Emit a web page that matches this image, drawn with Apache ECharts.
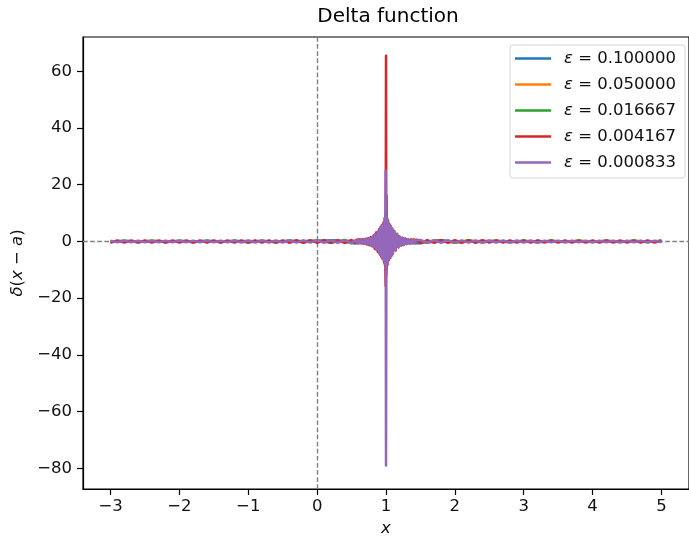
<!DOCTYPE html>
<html>
<head>
<meta charset="utf-8">
<script src="https://cdn.jsdelivr.net/npm/echarts@6/dist/echarts.min.js"></script>
<style>
  html, body { margin: 0; padding: 0; background: #fff; }
  #chart { width: 689px; height: 542px; }
</style>
</head>
<body>
<div id="chart"></div>
<script>
  // tick positions
  const xTicks = [-3, -2, -1, 0, 1, 2, 3, 4, 5];
  const yTicks = [-80, -60, -40, -20, 0, 20, 40, 60];

  const seriesNames = [
    'ε = 0.100000',
    'ε = 0.050000',
    'ε = 0.016667',
    'ε = 0.004167',
    'ε = 0.000833',
  ];
  const colors = ['#1f77b4', '#ff7f0e', '#2ca02c', '#d62728', '#9467bd'];

  // eps = 0.1 (mostly hidden under the others)
  const blueData = [
    [-3.0, 0.05], [-2.5, -0.08], [-2.0, 0.1], [-1.5, -0.12], [-1.0, 0.15], [-0.6, -0.13],
    [-0.2, 0.18], [0.0, 0.15], [0.2, 0.39], [0.3, 0.3], [0.4, -0.15], [0.5, -0.61],
    [0.6, -0.6], [0.7, 0.15], [0.8, 1.45], [0.9, 2.68], [1.0, 3.18], [1.1, 2.68],
    [1.2, 1.45], [1.3, 0.15], [1.4, -0.6], [1.5, -0.61], [1.6, -0.15], [1.7, 0.3],
    [1.8, 0.39], [2.0, -0.17], [2.4, 0.2], [3.0, -0.12], [3.5, 0.1], [4.0, -0.08],
    [4.5, 0.07], [5.0, -0.05],
  ];

  // eps = 0.05
  const orangeData = [
    [-3.0, 0.05], [-2.5, -0.06], [-2.0, 0.07], [-1.5, -0.09], [-1.0, 0.1], [-0.5, -0.15],
    [0.0, 0.2], [0.2, -0.25], [0.3, 0.3], [0.4, -0.28], [0.5, -0.35], [0.6, 0.79],
    [0.65, 0.6], [0.7, -0.3], [0.75, -1.22], [0.8, -1.2], [0.85, 0.3], [0.9, 2.9],
    [0.95, 5.36], [1.0, 6.37], [1.05, 5.36], [1.1, 2.9], [1.15, 0.3], [1.2, -1.2],
    [1.25, -1.22], [1.3, -0.3], [1.35, 0.6], [1.4, 0.79], [1.5, -0.35], [1.6, -0.28],
    [1.7, 0.3], [2.0, -0.25], [2.5, 0.15], [3.0, -0.1], [3.5, 0.09], [4.0, -0.07],
    [4.5, 0.06], [5.0, -0.05],
  ];

  // eps = 0.016667
  const greenData = [
    [-3.0, -0.3], [-2.8, 0.3], [-2.6, -0.3], [-2.4, 0.3], [-2.2, -0.3], [-2.0, 0.3],
    [-1.8, -0.3], [-1.6, 0.3], [-1.4, -0.3], [-1.2, 0.35], [-1.0, -0.35], [-0.8, 0.35],
    [-0.6, -0.35], [-0.4, 0.4], [-0.2, -0.4], [0.0, 0.45], [0.2, -0.45], [0.4, 0.5],
    [0.55, -0.55], [0.65, 0.7], [0.72, -0.95], [0.78, 1.4], [0.83, -2.1], [0.87, 3.0],
    [0.9, -3.9], [0.93, 4.9], [0.95, -5.7], [0.97, 6.5], [0.98, -7.5], [0.99, 9],
    [1.0, 10], [1.008, 16], [1.012, -9.5], [1.02, 8], [1.03, -7], [1.05, 5.7],
    [1.07, -4.9], [1.1, 3.9], [1.13, -3.0], [1.17, 2.1], [1.22, -1.4], [1.28, 0.95],
    [1.35, -0.7], [1.45, 0.55], [1.6, -0.5], [1.8, 0.45], [2.0, -0.45], [2.2, 0.4],
    [2.4, -0.4], [2.6, 0.35], [2.8, -0.35], [3.0, 0.35], [3.2, -0.35], [3.4, 0.35],
    [3.6, -0.3], [3.8, 0.3], [4.0, -0.3], [4.2, 0.3], [4.4, -0.3], [4.6, 0.3],
    [4.8, -0.3], [5.0, 0.3],
  ];

  // eps = 0.004167
  const redData = [
    [-3.0, -0.35], [-2.9, 0.35], [-2.8, -0.35], [-2.7, 0.35], [-2.6, -0.35], [-2.5, 0.35],
    [-2.4, -0.35], [-2.3, 0.35], [-2.2, -0.35], [-2.1, 0.35], [-2.0, -0.35], [-1.9, 0.35],
    [-1.8, -0.35], [-1.7, 0.35], [-1.6, -0.35], [-1.5, 0.35], [-1.4, -0.35], [-1.3, 0.35],
    [-1.2, -0.4], [-1.1, 0.4], [-1.0, -0.4], [-0.9, 0.4], [-0.8, -0.4], [-0.7, 0.4],
    [-0.6, -0.4], [-0.5, 0.4], [-0.4, -0.45], [-0.3, 0.45], [-0.2, -0.45], [-0.1, 0.45],
    [0.0, -0.45], [0.1, 0.5], [0.2, -0.5], [0.3, 0.5], [0.4, -0.5], [0.5, 0.55],
    [0.56, -0.55], [0.58, 0.6], [0.6, -0.6], [0.62, 0.65], [0.64, -0.7], [0.66, 0.75],
    [0.68, -0.8], [0.7, 0.9], [0.72, -1.0], [0.74, 1.1], [0.76, -1.3], [0.78, 1.45],
    [0.8, -1.7], [0.82, 2.1], [0.84, -2.7], [0.86, 3.2], [0.88, -3.7], [0.9, 4.3],
    [0.91, -4.6], [0.92, 5.0], [0.93, -5.4], [0.94, 5.8], [0.95, -6.1], [0.96, 6.5],
    [0.97, -7.3], [0.98, 8.3], [0.99, -9.5], [0.995, -15.7], [1.0, 65.5], [1.005, -12],
    [1.01, 9.5], [1.02, -8.3], [1.03, 7.3], [1.04, -6.5], [1.05, 6.1], [1.06, -5.8],
    [1.07, 5.4], [1.08, -5.0], [1.09, 4.6], [1.1, -4.3], [1.12, 3.7], [1.14, -3.2],
    [1.16, 2.7], [1.18, -2.1], [1.2, 1.7], [1.22, -1.45], [1.24, 1.3], [1.26, -1.1],
    [1.28, 1.0], [1.3, -0.9], [1.32, 0.8], [1.34, -0.75], [1.36, 0.7], [1.38, -0.65],
    [1.4, 0.6], [1.42, -0.6], [1.44, 0.55], [1.5, -0.55], [1.6, 0.5], [1.7, -0.5],
    [1.8, 0.5], [1.9, -0.5], [2.0, 0.45], [2.1, -0.45], [2.2, 0.45], [2.3, -0.45],
    [2.4, 0.45], [2.5, -0.4], [2.6, 0.4], [2.7, -0.4], [2.8, 0.4], [2.9, -0.4],
    [3.0, 0.4], [3.1, -0.4], [3.2, 0.4], [3.3, -0.35], [3.4, 0.35], [3.5, -0.35],
    [3.6, 0.35], [3.7, -0.35], [3.8, 0.35], [3.9, -0.35], [4.0, 0.35], [4.1, -0.35],
    [4.2, 0.35], [4.3, -0.35], [4.4, 0.35], [4.5, -0.35], [4.6, 0.35], [4.7, -0.35],
    [4.8, 0.35], [4.9, -0.35], [5.0, 0.35],
  ];

  // eps = 0.000833 (drawn on top)
  const purpleData = [
    [-3.0, 0.3], [-2.9, -0.3], [-2.8, 0.3], [-2.7, -0.3], [-2.6, 0.3], [-2.5, -0.3],
    [-2.4, 0.3], [-2.3, -0.3], [-2.2, 0.3], [-2.1, -0.3], [-2.0, 0.3], [-1.9, -0.3],
    [-1.8, 0.3], [-1.7, -0.3], [-1.6, 0.3], [-1.5, -0.3], [-1.4, 0.3], [-1.3, -0.3],
    [-1.2, 0.35], [-1.1, -0.35], [-1.0, 0.35], [-0.9, -0.35], [-0.8, 0.35], [-0.7, -0.35],
    [-0.6, 0.35], [-0.5, -0.35], [-0.4, 0.4], [-0.3, -0.4], [-0.2, 0.4], [-0.1, -0.4],
    [0.0, 0.4], [0.1, -0.45], [0.2, 0.45], [0.3, -0.45], [0.4, 0.45], [0.5, -0.5],
    [0.56, 0.5], [0.58, -0.55], [0.6, 0.55], [0.62, -0.6], [0.64, 0.65], [0.66, -0.7],
    [0.68, 0.75], [0.7, -0.85], [0.72, 0.95], [0.74, -1.05], [0.76, 1.2], [0.78, -1.35],
    [0.8, 1.6], [0.82, -2.0], [0.84, 2.5], [0.86, -3.0], [0.88, 3.5], [0.9, -4.0],
    [0.91, 4.4], [0.92, -4.8], [0.93, 5.2], [0.94, -5.5], [0.95, 5.8], [0.96, -6.2],
    [0.97, 7], [0.98, -8], [0.99, 9], [0.995, 25], [1.0, -79], [1.005, -15],
    [1.01, 9], [1.02, -8], [1.03, 7], [1.04, -6.2], [1.05, 5.8], [1.06, -5.5],
    [1.07, 5.2], [1.08, -4.8], [1.09, 4.4], [1.1, -4.0], [1.12, 3.5], [1.14, -3.0],
    [1.16, 2.5], [1.18, -2.0], [1.2, 1.6], [1.22, -1.35], [1.24, 1.2], [1.26, -1.05],
    [1.28, 0.95], [1.3, -0.85], [1.32, 0.75], [1.34, -0.7], [1.36, 0.65], [1.38, -0.6],
    [1.4, 0.55], [1.42, -0.55], [1.44, 0.5], [1.5, 0.5], [1.6, -0.45], [1.7, 0.45],
    [1.8, -0.45], [1.9, 0.45], [2.0, -0.4], [2.1, 0.4], [2.2, -0.4], [2.3, 0.4],
    [2.4, -0.4], [2.5, 0.35], [2.6, -0.35], [2.7, 0.35], [2.8, -0.35], [2.9, 0.35],
    [3.0, -0.35], [3.1, 0.35], [3.2, -0.35], [3.3, 0.3], [3.4, -0.3], [3.5, 0.3],
    [3.6, -0.3], [3.7, 0.3], [3.8, -0.3], [3.9, 0.3], [4.0, -0.3], [4.1, 0.3],
    [4.2, -0.3], [4.3, 0.3], [4.4, -0.3], [4.5, 0.3], [4.6, -0.3], [4.7, 0.3],
    [4.8, -0.3], [4.9, 0.3], [5.0, -0.3],
  ];

  const allData = [blueData, orangeData, greenData, redData, purpleData];

  const font = 'DejaVu Sans';
  const fs = 16.5;
  const minus = (v) => String(v).replace('-', '\u2212');

  const chart = echarts.init(document.getElementById('chart'), null, { renderer: 'canvas' });

  const lineSeries = allData.map((d, i) => ({
    name: seriesNames[i],
    type: 'line',
    data: d,
    symbol: 'none',
    showSymbol: false,
    sampling: null,
    color: colors[i],
    lineStyle: { width: 2.5, color: colors[i], join: 'round' },
    z: 2 + i,
  }));

  // dashed reference lines at x = 0 and y = 0
  lineSeries.push({
    name: 'ref',
    type: 'line',
    data: [],
    z: 20,
    markLine: {
      silent: true,
      symbol: ['none', 'none'],
      label: { show: false },
      lineStyle: { color: '#808080', type: [4.7, 2.4], width: 1.4 },
      data: [{ xAxis: 0 }, { yAxis: 0 }],
      animation: false,
    },
  });

  const option = {
    animation: false,
    backgroundColor: '#fff',
    textStyle: { fontFamily: font },
    graphic: [
      {
        type: 'text',
        x: 388,
        y: 17,
        style: {
          text: 'Delta function',
          font: '20px "DejaVu Sans"',
          fill: '#000',
          textAlign: 'center',
          textVerticalAlign: 'middle',
        },
      },
    ],
    grid: {
      left: 83,
      top: 37,
      width: 610,
      height: 455,
      show: true,
      borderColor: '#000',
      borderWidth: 1.2,
      backgroundColor: 'transparent',
    },
    legend: {
      data: seriesNames,
      orient: 'vertical',
      right: 4,
      top: 45,
      itemWidth: 36,
      itemHeight: 2.5,
      itemGap: 9,
      icon: 'rect',
      padding: [5, 9, 7, 5],
      borderColor: '#d5d5d5',
      borderWidth: 1,
      borderRadius: 3,
      backgroundColor: 'rgba(255,255,255,0.8)',
      formatter: (n) => n.replace('ε', '{e|ε}'),
      textStyle: {
        fontFamily: font,
        fontSize: fs,
        color: '#111',
        padding: [0, 0, 0, 8],
        rich: {
          e: { fontFamily: font, fontStyle: 'italic', fontSize: fs, color: '#111' },
        },
      },
    },
    xAxis: {
      type: 'value',
      min: -3.4,
      max: 5.4,
      name: 'x',
      nameLocation: 'middle',
      nameGap: 31,
      nameTextStyle: { fontFamily: font, fontStyle: 'italic', fontSize: fs, color: '#111' },
      axisLine: { show: true, onZero: false, lineStyle: { color: '#000', width: 1.2 } },
      axisTick: { show: true, length: 6, customValues: xTicks, lineStyle: { color: '#000', width: 1.2 } },
      axisLabel: {
        customValues: xTicks,
        formatter: minus,
        margin: 9,
        fontFamily: font,
        fontSize: fs,
        color: '#111',
      },
      splitLine: { show: false },
    },
    yAxis: {
      type: 'value',
      min: -87.3,
      max: 72.1,
      name: '{i|δ}({i|x} − {i|a})',
      nameLocation: 'middle',
      nameGap: 57,
      nameRotate: 90,
      nameTextStyle: {
        fontFamily: font,
        fontSize: fs,
        color: '#111',
        rich: { i: { fontFamily: font, fontStyle: 'italic', fontSize: fs, color: '#111' } },
      },
      axisLine: { show: true, onZero: false, lineStyle: { color: '#000', width: 1.2 } },
      axisTick: { show: true, length: 6, customValues: yTicks, lineStyle: { color: '#000', width: 1.2 } },
      axisLabel: {
        customValues: yTicks,
        formatter: minus,
        margin: 11,
        fontFamily: font,
        fontSize: fs,
        color: '#111',
      },
      splitLine: { show: false },
    },
    series: lineSeries,
  };

  chart.setOption(option);
</script>
</body>
</html>
